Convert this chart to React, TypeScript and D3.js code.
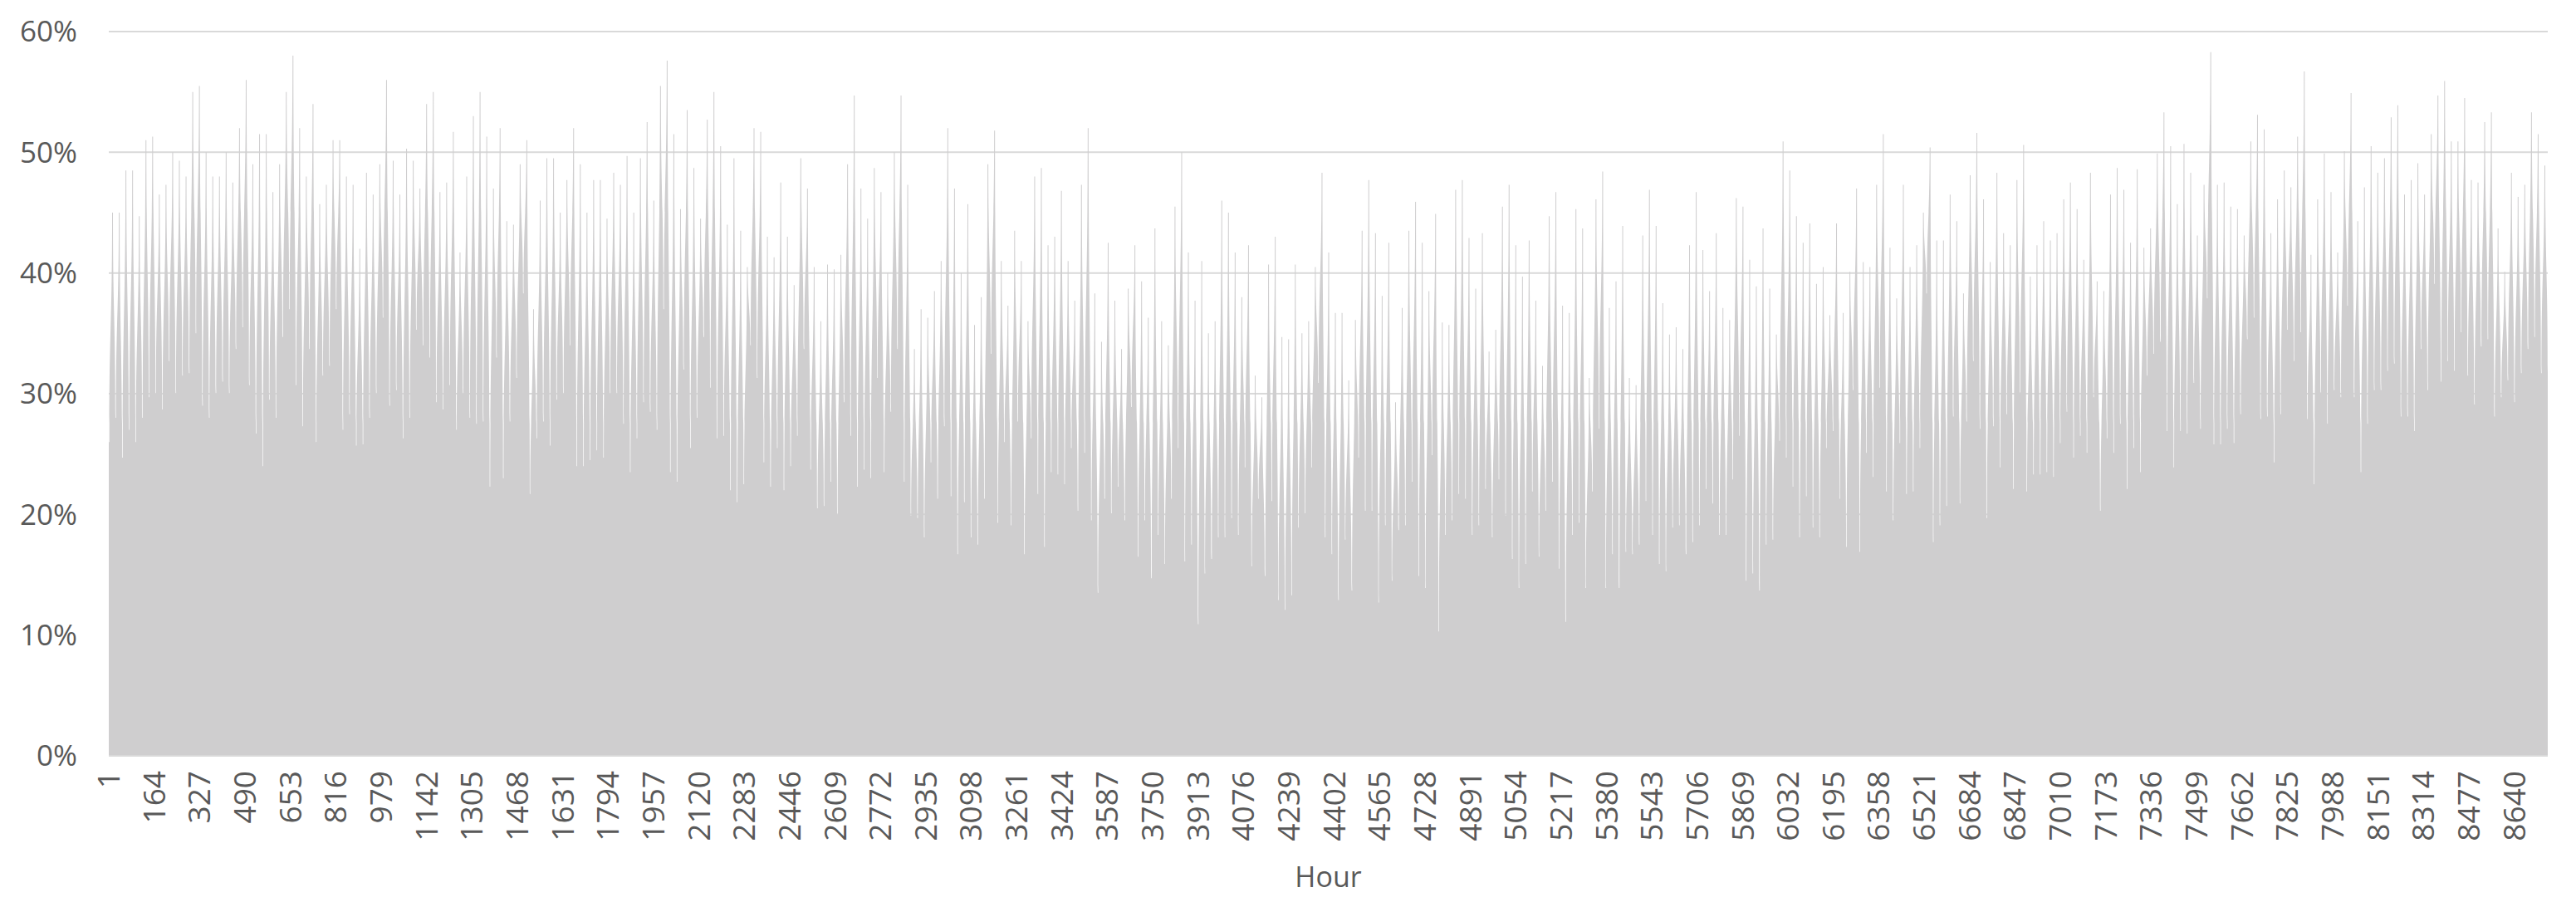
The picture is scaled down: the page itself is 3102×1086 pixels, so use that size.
import React from "react";
import * as d3 from "d3";

// Daily peak (max hourly value, %), day 0..364
const dailyMax: number[] = [
  45, 45, 48.5, 48.5, 44.7, 51, 51.3, 46.5, 47.3, 50,
  49.3, 48, 55, 55.5, 50, 48, 48, 50, 47.5, 52,
  56, 49, 51.5, 51.5, 46.7, 49, 55, 58, 52, 48,
  54, 45.7, 47.3, 51, 51, 48, 47.3, 42, 48.3, 46.5,
  49, 56, 49.3, 46.5, 50.3, 49.3, 47, 54, 55, 46.7,
  47.5, 51.7, 41.7, 48, 53, 55, 51.3, 47, 52, 44.3,
  44, 49, 51, 37, 46, 49.5, 49.5, 45, 47.7, 52,
  49, 45, 47.7, 47.7, 44.5, 48.3, 47.3, 49.7, 45, 49.5,
  52.5, 46, 55.5, 57.6, 51.5, 45.3, 53.5, 48.7, 44.5, 52.7,
  55, 50.5, 44, 49.5, 43.5, 40.5, 52, 51.7, 43, 41.3,
  47.5, 43, 39, 49.5, 47, 40.5, 36, 40.7, 40.3, 41.5,
  49, 54.7, 47, 44.5, 48.7, 46.7, 40, 50, 54.7, 47.3,
  33.7, 37, 36.3, 38.5, 41, 52, 47, 40, 45.7, 35.7,
  38, 49, 51.8, 41, 37.3, 43.5, 41, 36, 48, 48.7,
  42.3, 43, 46.8, 41, 37.7, 47.3, 52, 38.3, 34.3, 42.5,
  37.7, 33.7, 38.7, 42.3, 39.3, 36.3, 43.7, 36, 34, 45.5,
  50, 41.7, 37.7, 41, 35, 36, 46, 45, 41.7, 38,
  42.3, 31.5, 29.7, 40.7, 43, 34.7, 34.5, 40.7, 35, 36,
  40.5, 48.3, 41.7, 36.7, 36.7, 31.1, 36.1, 43.5, 47.7, 43.3,
  38.1, 42.5, 29.3, 37.1, 43.5, 45.9, 42.5, 38.5, 44.9, 35.9,
  35.7, 46.9, 47.7, 42.9, 38.7, 43.3, 33.5, 35.3, 45.5, 47.3,
  42.3, 39.7, 42.7, 37.7, 32.3, 44.7, 46.7, 37.3, 36.7, 45.3,
  43.7, 31.3, 46.1, 48.4, 37.1, 39.3, 43.9, 31.3, 30.7, 43.1,
  46.9, 43.9, 37.5, 34.9, 35.5, 33.7, 42.3, 46.7, 41.9, 38.5,
  43.3, 37.1, 36.1, 46.2, 45.5, 41.1, 38.9, 43.7, 38.7, 34.9,
  50.9, 48.5, 44.7, 42.5, 44.1, 39.1, 40.5, 36.5, 44.1, 36.7,
  40.1, 47, 40.9, 40.5, 47.3, 51.5, 42.1, 37.9, 47.3, 40.5,
  42.3, 45, 50.4, 42.7, 42.7, 46.5, 44.3, 38.3, 48.1, 51.6,
  46.1, 40.9, 48.3, 43.3, 42.3, 47.7, 50.6, 39.7, 42.3, 44.3,
  42.7, 43.3, 46.1, 47.5, 45.3, 41.1, 48.3, 39.3, 38.5, 46.5,
  48.7, 46.9, 42.5, 48.6, 42.1, 43.7, 49.9, 53.3, 50.5, 45.7,
  50.7, 48.3, 43.1, 47.3, 58.3, 47.3, 47.5, 45.5, 45.3, 43.1,
  50.9, 53.1, 51.9, 43.3, 46.1, 48.5, 47.1, 51.3, 56.7, 41.5,
  46.1, 49.9, 46.7, 41.7, 50.1, 54.9, 44.3, 47.1, 50.5, 48.3,
  49.5, 52.9, 53.9, 46.5, 47.7, 49.1, 46.5, 51.5, 54.7, 55.9,
  50.9, 50.9, 54.5, 47.7, 47.5, 52.5, 53.3, 43.7, 40.1, 48.3,
  46.3, 47.3, 53.3, 51.5, 48.9,
];

// Daily trough (min hourly value, %), day 0..364
const dailyMin: number[] = [
  26, 28, 24.7, 27, 26, 28, 29.7, 30, 28.7, 32.7,
  30, 31.5, 31.7, 35, 29, 28, 30, 31, 30, 33.7,
  35.5, 30.7, 26.7, 24, 29.5, 28, 34.7, 37, 30.7, 27.3,
  33.7, 26, 31.5, 32.3, 37, 27, 28.3, 25.7, 25.8, 28,
  30, 36.3, 29, 30.3, 26.3, 28, 35.3, 34, 33, 29.3,
  28.7, 30.7, 27, 30, 28, 27.5, 27.7, 22.3, 33, 23,
  27.7, 31.3, 38.3, 21.7, 26.3, 27.7, 25.7, 29.5, 30, 34,
  24, 24, 24.5, 25.3, 24.7, 30, 30, 27.5, 23.5, 26.3,
  29.3, 28.5, 27, 37, 23.5, 22.7, 32, 25.5, 28, 34.7,
  30.5, 26.3, 26.5, 22, 21, 22.5, 34, 31.3, 24.3, 22.3,
  25.5, 22, 24, 26.5, 33.7, 23.7, 20.5, 20.7, 22.7, 20,
  29.3, 26.5, 22.3, 23.7, 23, 31.3, 23.5, 28.5, 33.7, 22.7,
  19.9, 19.7, 18.1, 24.3, 21.3, 27.3, 21.5, 16.7, 21, 18.1,
  17.5, 21.3, 33.3, 19.3, 26, 19.1, 27.7, 16.7, 26.3, 21.7,
  17.3, 23.5, 23.3, 22.5, 25.5, 20.3, 25.1, 19.5, 13.5, 21.3,
  20.1, 22.3, 19.5, 28.9, 16.5, 19.5, 14.7, 18.3, 15.9, 21.3,
  25.5, 16.1, 17.5, 10.9, 15.1, 16.3, 18.1, 18.1, 19.7, 18.3,
  23.9, 15.7, 21.3, 14.9, 21.1, 12.9, 12.1, 13.3, 18.9, 20.1,
  23.9, 30.9, 18.1, 16.7, 12.9, 17.9, 13.7, 24.7, 20.3, 20.3,
  12.7, 19.1, 14.5, 18.7, 19.1, 22.7, 14.9, 13.9, 24.9, 10.3,
  18.3, 19.5, 21.7, 21.3, 18.3, 19.1, 22.1, 18.1, 22.9, 19.9,
  16.3, 13.9, 15.9, 21.9, 16.5, 20.3, 22.7, 15.5, 11.1, 18.3,
  19.3, 13.9, 21.9, 27.1, 13.9, 16.7, 13.9, 16.9, 16.7, 17.5,
  21.1, 18.3, 15.9, 15.3, 18.9, 19.1, 16.7, 17.7, 19.1, 22.1,
  20.9, 18.3, 18.3, 22.9, 26.5, 14.5, 15.1, 13.7, 17.5, 17.9,
  26.1, 24.7, 22.3, 18.1, 21.5, 18.9, 18.1, 25.5, 26.9, 21.3,
  17.3, 30.3, 16.9, 25.1, 23.1, 30.5, 21.9, 19.5, 25.9, 21.7,
  21.9, 25.5, 38.3, 17.7, 19.1, 20.7, 28.1, 20.9, 27.7, 32.7,
  27.1, 19.7, 27.3, 23.9, 28.3, 22.1, 30.1, 21.9, 23.3, 23.3,
  23.5, 23.1, 25.9, 28.5, 24.7, 26.5, 25.1, 29.7, 20.3, 26.3,
  25.1, 27.5, 22.1, 25.5, 23.5, 31.5, 33.3, 34.3, 26.9, 23.9,
  26.9, 26.7, 30.9, 27.1, 37.9, 25.8, 25.8, 27.1, 25.9, 28.3,
  34.5, 36.3, 27.9, 28.1, 24.3, 28.3, 35.3, 32.7, 35.1, 27.9,
  22.5, 30.1, 27.5, 30.3, 29.7, 37.3, 29.7, 23.5, 27.5, 30.3,
  30.3, 31.9, 32.5, 28.1, 28.1, 26.9, 33.7, 30.3, 39.1, 31,
  32.7, 31.9, 35.1, 31.5, 29.1, 33.9, 34.5, 28.1, 29.7, 31.1,
  29.3, 31.7, 33.7, 34.7, 31.7,
];

const yTicks: number[] = [0, 10, 20, 30, 40, 50, 60];
const HOURS = 8760;
const xTickHours: number[] = d3.range(1, HOURS + 1, 163);
const xTitle = "Hour";

const W = 3102;
const H = 1086;
const M = { left: 131, right: 3068, top: 38, bottom: 910 };
const BAR = "#cfcecf";
const GRID = "#d9d9d9";
const TEXT = "#595959";
const FONT = "'Open Sans', 'Liberation Sans', sans-serif";

export default function App() {
  const hours = d3.range(1, HOURS + 1).map(String);
  const x = d3.scaleBand<string>().domain(hours).range([M.left, M.right]).padding(0);
  const bw = x.bandwidth();
  const y = d3.scaleLinear().domain([0, 60]).range([M.bottom, M.top]);

  const hx = (h: number) => (h <= HOURS ? (x(String(h)) as number) : (x(String(HOURS)) as number) + bw);
  const p = d3.path();
  const nDays = dailyMax.length;
  p.moveTo(hx(1), y(0));
  for (let d = 0; d < nDays; d++) {
    const base = d * 24;
    const s0 = hx(base + 1);
    const s1 = hx(base + 3);
    const pk0 = hx(base + 13);
    const pk1 = hx(base + 16);
    const e = hx(base + 25);
    const lo = dailyMin[d];
    const hi = dailyMax[d];
    const loN = d < nDays - 1 ? dailyMin[d + 1] : dailyMin[d];
    if (d === 0) p.lineTo(s0, y(lo));
    p.lineTo(s1, y(lo));
    const mUp = y((lo + hi) / 2);
    const mDn = y((hi + loN) / 2);
    p.bezierCurveTo(s1, mUp, pk0, mUp, pk0, y(hi));
    p.lineTo(pk1, y(hi));
    p.bezierCurveTo(pk1, mDn, e, mDn, e, y(loN));
  }
  p.lineTo(hx(HOURS + 1), y(0));
  p.closePath();

  return (
    <svg width={W} height={H} style={{ position: "absolute", left: 0, top: 0, background: "#fff" }}>
      <rect x={0} y={0} width={W} height={H} fill="#fff" />
      {yTicks.map((t) => (
        <line key={"g" + t} x1={M.left} x2={M.right} y1={y(t)} y2={y(t)} stroke={GRID} strokeWidth={2} />
      ))}
      <path d={p.toString()} fill={BAR} />
      <line x1={M.left} x2={M.right} y1={y(0)} y2={y(0)} stroke={GRID} strokeWidth={2} />
      {yTicks.map((t) => (
        <text key={"yt" + t} x={93} y={y(t)} dy="0.35em" textAnchor="end" fontFamily={FONT} fontSize={35} fill={TEXT}>
          {t + "%"}
        </text>
      ))}
      {xTickHours.map((h) => {
        const cx = hx(h) + bw / 2;
        const ty = 928;
        return (
          <text key={"xt" + h} transform={`translate(${cx},${ty}) rotate(-90)`} dy="0.35em" textAnchor="end" fontFamily={FONT} fontSize={37} fill={TEXT}>
            {String(h)}
          </text>
        );
      })}
      <text x={(M.left + M.right) / 2} y={1068} textAnchor="middle" fontFamily={FONT} fontSize={34} fill={TEXT}>
        {xTitle}
      </text>
    </svg>
  );
}
